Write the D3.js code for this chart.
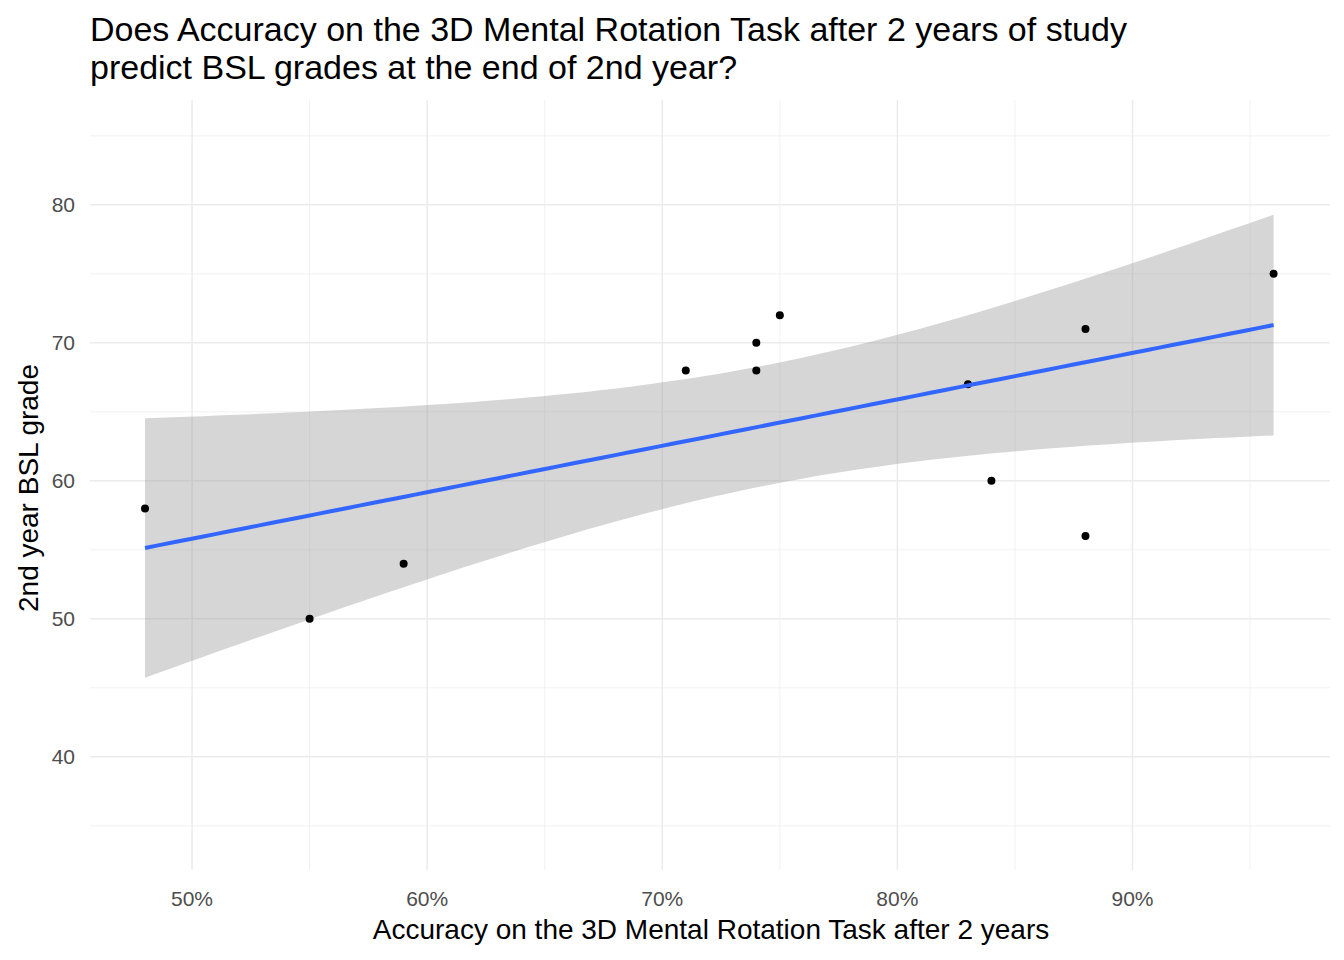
<!DOCTYPE html>
<html>
<head>
<meta charset="utf-8">
<script src="https://cdn.jsdelivr.net/npm/d3@7"></script>
<style>
  body { margin: 0; background: #fff; }
  text { font-family: "Liberation Sans", Arial, sans-serif; }
</style>
</head>
<body>
<svg id="chart" width="1344" height="960"></svg>
<script>
var accuracy = [0.48, 0.55, 0.59, 0.71, 0.74, 0.74, 0.75, 0.83, 0.84, 0.88, 0.88, 0.96];
var grade = [58, 50, 54, 68, 70, 68, 72, 67, 60, 71, 56, 75];
var xTicks = [0.5, 0.6, 0.7, 0.8, 0.9];
var yTicks = [40, 50, 60, 70, 80];

var svg = d3.select("#chart");
var pLeft = 90, pRight = 1330, pTop = 100, pBottom = 870;

var x = d3.scaleLinear().domain([0.4566, 0.984]).range([pLeft, pRight]);
var y = d3.scaleLinear().domain([31.8, 87.6]).range([pBottom, pTop]);

// minor grid
var xMinor = [0.45, 0.55, 0.65, 0.75, 0.85, 0.95].filter(function (d) { return x(d) >= pLeft; });
var yMinor = [35, 45, 55, 65, 75, 85];
svg.selectAll(".xm").data(xMinor).enter().append("line")
  .attr("x1", x).attr("x2", x).attr("y1", pTop).attr("y2", pBottom)
  .attr("stroke", "#ebebeb").attr("stroke-width", 0.7);
svg.selectAll(".ym").data(yMinor).enter().append("line")
  .attr("x1", pLeft).attr("x2", pRight).attr("y1", y).attr("y2", y)
  .attr("stroke", "#ebebeb").attr("stroke-width", 0.7);
// major grid
svg.selectAll(".xg").data(xTicks).enter().append("line")
  .attr("x1", x).attr("x2", x).attr("y1", pTop).attr("y2", pBottom)
  .attr("stroke", "#ebebeb").attr("stroke-width", 1.5);
svg.selectAll(".yg").data(yTicks).enter().append("line")
  .attr("x1", pLeft).attr("x2", pRight).attr("y1", y).attr("y2", y)
  .attr("stroke", "#ebebeb").attr("stroke-width", 1.5);

// linear fit with 95% CI
var n = accuracy.length;
var mx = d3.mean(accuracy), my = d3.mean(grade);
var sxx = d3.sum(accuracy, function (d) { return (d - mx) * (d - mx); });
var sxy = d3.sum(accuracy, function (d, i) { return (d - mx) * (grade[i] - my); });
var b = sxy / sxx, a = my - b * mx;
var sse = d3.sum(accuracy, function (d, i) { var r = grade[i] - (a + b * d); return r * r; });
var s = Math.sqrt(sse / (n - 2));
var tq = 2.228;
var lo = d3.min(accuracy), hi = d3.max(accuracy);
var xs = d3.range(80).map(function (i) { return lo + (hi - lo) * i / 79; });
var fit = xs.map(function (xv) {
  var f = a + b * xv;
  var se = s * Math.sqrt(1 / n + (xv - mx) * (xv - mx) / sxx);
  return { x: xv, f: f, lo: f - tq * se, hi: f + tq * se };
});

svg.append("path").datum(fit)
  .attr("d", d3.area().x(function (d) { return x(d.x); })
    .y0(function (d) { return y(d.lo); }).y1(function (d) { return y(d.hi); }))
  .attr("fill", "#999").attr("fill-opacity", 0.4);

svg.selectAll(".pt").data(accuracy).enter().append("circle")
  .attr("cx", function (d) { return x(d); })
  .attr("cy", function (d, i) { return y(grade[i]); })
  .attr("r", 4).attr("fill", "#000");

svg.append("path").datum(fit)
  .attr("d", d3.line().x(function (d) { return x(d.x); }).y(function (d) { return y(d.f); }))
  .attr("fill", "none").attr("stroke", "#3366ff").attr("stroke-width", 4);

// tick labels
svg.selectAll(".xt").data(xTicks).enter().append("text")
  .attr("x", x).attr("y", 906).attr("text-anchor", "middle")
  .attr("font-size", 21).attr("fill", "#4d4d4d")
  .text(function (d) { return d3.format(".0%")(d); });
svg.selectAll(".yt").data(yTicks).enter().append("text")
  .attr("x", 75).attr("y", function (d) { return y(d) + 7; }).attr("text-anchor", "end")
  .attr("font-size", 21).attr("fill", "#4d4d4d")
  .text(function (d) { return d; });

// axis titles
svg.append("text").attr("x", (pLeft + pRight) / 2 + 1).attr("y", 939).attr("text-anchor", "middle")
  .attr("font-size", 28).attr("fill", "#000")
  .text("Accuracy on the 3D Mental Rotation Task after 2 years");
svg.append("text").attr("transform", "translate(38," + ((pTop + pBottom) / 2 + 3) + ") rotate(-90)")
  .attr("text-anchor", "middle").attr("font-size", 28).attr("fill", "#000")
  .text("2nd year BSL grade");

// title
svg.append("text").attr("x", 90).attr("y", 41).attr("font-size", 34).attr("fill", "#000")
  .text("Does Accuracy on the 3D Mental Rotation Task after 2 years of study");
svg.append("text").attr("x", 90).attr("y", 79).attr("font-size", 34).attr("fill", "#000")
  .text("predict BSL grades at the end of 2nd year?");
</script>
</body>
</html>
